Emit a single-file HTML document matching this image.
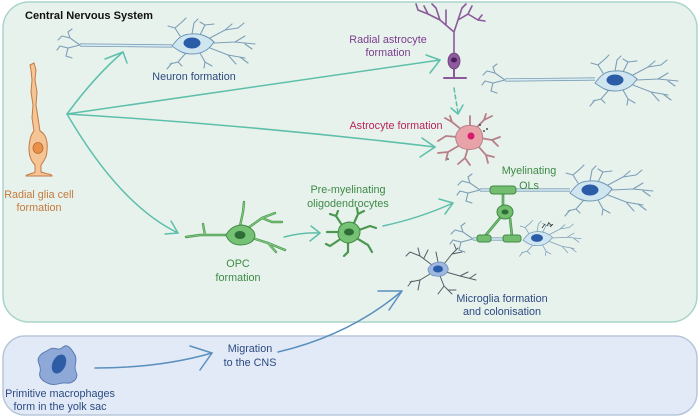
<!DOCTYPE html>
<html><head><meta charset="utf-8"><style>
html,body{margin:0;padding:0;background:#fff;}
svg{display:block;}
text{font-family:"Liberation Sans",Arial,sans-serif;font-size:10.8px;}
</style></head><body>
<svg width="700" height="417" viewBox="0 0 700 417" xmlns="http://www.w3.org/2000/svg">
<defs>
<g id="soma">
  <g fill="none" stroke="#7d9fb6" stroke-width="1.1" stroke-linecap="round">
    <path d="M8,-8 L13,-18 L8,-21 M13,-18 L22,-19"/>
    <path d="M18,-5 L33,-13 L46,-15 M33,-13 L40,-19 M46,-15 L52,-20"/>
    <path d="M22,0 L43,-1 L63,1 M43,-1 L53,-7 M53,1 L60,6"/>
    <path d="M18,5 L36,12 L53,15 M36,12 L44,21 M48,14 L56,20"/>
    <path d="M8,10 L13,19 L20,23 M13,19 L12,25"/>
    <path d="M-7,11 L-14,19 L-22,21 M-14,19 L-10,23 M-20,20 L-25,26"/>
    <path d="M-12,-7 L-17,-15 L-10,-21 M-17,-15 L-24,-17 M-10,-21 L-6,-25"/>
    <path d="M0,-9 L2,-20 L6,-24"/>
  </g>
  <path d="M-20,3 C-14,-5 -10,-9 0,-9 C10,-10 18,-5 22,-1 C18,5 12,11 0,11 C-10,11 -14,7 -20,3Z" fill="#cfe6f1" stroke="#6e97b3" stroke-width="1"/>
  <ellipse cx="0" cy="0" rx="8.5" ry="5.5" fill="#2b5ca8"/>
</g>
<g id="term" fill="none" stroke="#7d9fb6" stroke-width="1.1" stroke-linecap="round">
  <path d="M0,0 L-10,-7 L-18,-9 M-10,-7 L-12,-13 M-18,-9 L-22,-5 M-12,-13 L-8,-16"/>
  <path d="M0,0 L-12,3 L-20,1 M-12,3 L-14,11 L-8,13 M-20,1 L-23,5"/>
</g>
</defs>

<!-- boxes -->
<rect x="3" y="2" width="694" height="320" rx="26" ry="26" fill="#e8f2ed" stroke="#a8d4cb" stroke-width="1.5"/>
<rect x="3" y="336" width="694" height="79" rx="22" ry="22" fill="#e2eaf7" stroke="#b9c7da" stroke-width="1.5"/>

<!-- teal arrows -->
<g fill="none" stroke="#5dbfaa" stroke-width="1.5" stroke-linecap="round" stroke-linejoin="round">
  <path d="M67,114 Q95,76 123,52"/>
  <path d="M105,59 L123,52 L127,63"/>
  <path d="M67,114 Q250,88 440,60"/>
  <path d="M426,55 L440,60 L430,73"/>
  <path d="M67,114 Q250,125 435,147"/>
  <path d="M422,138 L435,147 L420,157"/>
  <path d="M67,114 Q120,205 178,233"/>
  <path d="M165,234 L178,233 L171,221"/>
  <path d="M284,237 Q303,232 320,233"/>
  <path d="M311,226 L320,233 L310,241"/>
  <path d="M383,226 Q420,218 453,203"/>
  <path d="M439,199 L453,203 L445,214"/>
  <path d="M454,88 L458,113" stroke-dasharray="4,3"/>
  <path d="M451,108 L458,114 L463,105"/>
</g>
<!-- blue arrows -->
<g fill="none" stroke="#5b8fbd" stroke-width="1.5" stroke-linecap="round" stroke-linejoin="round">
  <path d="M95,368 Q160,368 212,353"/>
  <path d="M190,346 L212,353 L200,370"/>
  <path d="M278,352 Q350,335 402,291"/>
  <path d="M378,291 L402,291 L389,310"/>
</g>

<!-- neuron top-left -->
<path d="M80,45 L172,46" stroke="#7d9fb6" stroke-width="3.2" fill="none"/>
<path d="M80,45 L172,46" stroke="#d9edf5" stroke-width="1.6" fill="none"/>
<use href="#term" x="80" y="45"/>
<use href="#soma" x="192" y="43"/>

<!-- right neuron -->
<path d="M505,80 L595,79" stroke="#7d9fb6" stroke-width="3.2" fill="none"/>
<path d="M505,80 L595,79" stroke="#d9edf5" stroke-width="1.6" fill="none"/>
<use href="#term" x="505" y="80"/>
<use href="#soma" x="615" y="80"/>

<!-- myelinated neuron top -->
<path d="M480,190 L570,190" stroke="#7d9fb6" stroke-width="3.2" fill="none"/>
<path d="M480,190 L570,190" stroke="#d9edf5" stroke-width="1.6" fill="none"/>
<use href="#term" x="480" y="190"/>
<use href="#soma" x="590" y="190"/>
<!-- lower myelinated neuron -->
<path d="M473,239 L520,239" stroke="#7d9fb6" stroke-width="3.2" fill="none"/>
<path d="M473,239 L520,239" stroke="#d9edf5" stroke-width="1.6" fill="none"/>
<use href="#term" x="473" y="239"/>
<g transform="translate(537,238) scale(0.7)"><use href="#soma"/></g>
<g stroke="#333" stroke-width="0.8" fill="none"><path d="M542,228 l3,-4 M547,226 l2,-4 M550,227 l3,-3 M549,223 l3,3"/></g>
<!-- OL -->
<g fill="#72bd6e" stroke="#3f8a45" stroke-width="1">
  <path d="M503,194 L503,207 M500,218 L485,236 M510,218 L512,236" fill="none" stroke="#3f8a45" stroke-width="2.6"/>
  <path d="M503,194 L503,207 M500,218 L485,236 M510,218 L512,236" fill="none" stroke="#72bd6e" stroke-width="1.4"/>
  <rect x="490" y="186" width="26" height="8" rx="3"/>
  <rect x="477" y="235" width="14" height="7" rx="2.5"/>
  <rect x="503" y="235" width="18" height="7" rx="2.5"/>
  <ellipse cx="505" cy="212" rx="8" ry="7"/>
  <ellipse cx="505" cy="212" rx="3.5" ry="2.5" fill="#2d6e37" stroke="none"/>
</g>

<!-- radial glia -->
<path d="M30,65 L34,63 L36,70 L35,80 L37,92 L36,105 L38,118 L40,131 C46,134 48,142 47,150 C47,158 43,162 41,165 L41,172 C46,174 52,174 52,176 L26,176 C26,174 33,174 35,172 L35,165 C31,161 29,155 29,149 C29,141 31,134 34,131 L32,118 L33,105 L31,92 L32,80 L31,70 Z" fill="#f6c596" stroke="#c27a45" stroke-width="1"/>
<ellipse cx="38" cy="148" rx="5" ry="5.5" fill="#e8914a" stroke="#b96a30" stroke-width="0.8"/>

<!-- radial astrocyte -->
<g fill="none" stroke="#8a5a9a" stroke-width="1.6" stroke-linecap="round">
  <path d="M454,52 L454,32 L440,20 L436,8 M440,20 L428,14 L424,6 M428,14 L418,10 L416,4 M454,32 L458,20 L462,8 M458,20 L468,14 L472,6 M468,14 L478,20 L485,21 M462,8 L466,4 M436,8 L432,4 M446,25 L446,10 M478,20 L482,15"/>
  <path d="M454,69 L454,77 M444,78 L466,78" stroke-width="2"/>
</g>
<ellipse cx="454" cy="61" rx="6" ry="8" fill="#8d5b9c" stroke="#6d3d7e" stroke-width="0.8"/>
<ellipse cx="454" cy="60" rx="3" ry="2.5" fill="#4a1f5e"/>

<!-- astrocyte -->
<g fill="none" stroke="#b77f88" stroke-width="1.8" stroke-linecap="round">
  <path d="M462,130 L452,122 L445,118 M452,122 L450,116"/>
  <path d="M476,128 L484,120 L492,116 M484,120 L486,114"/>
  <path d="M480,138 L492,140 L500,137 M492,140 L498,146"/>
  <path d="M478,146 L486,155 L488,163 M486,155 L494,157"/>
  <path d="M468,148 L465,158 L458,164 M465,158 L470,165"/>
  <path d="M460,145 L448,152 L438,153 M448,152 L446,160"/>
  <path d="M458,137 L446,136 L438,141"/>
  <path d="M470,127 L470,116"/>
</g>
<path d="M458,131 C462,125 470,124 478,127 C484,132 484,142 479,147 C472,151 462,150 458,145 C455,140 455,135 458,131Z" fill="#e8a3a8" stroke="#b77f88" stroke-width="1"/>
<circle cx="471" cy="136" r="3.5" fill="#d41c6a"/>
<g fill="#222"><circle cx="484" cy="131" r="0.9"/><circle cx="487" cy="129" r="0.9"/><circle cx="480" cy="125" r="0.9"/><circle cx="448" cy="159" r="0.8"/></g>

<!-- OPC -->
<g fill="none" stroke="#4a9850" stroke-width="2.4" stroke-linecap="round">
  <path d="M228,235 L200,235 L186,237 M205,235 L203,224"/>
  <path d="M248,228 L262,218 L275,213 M262,218 L272,222 L282,222"/>
  <path d="M252,238 L268,243 L285,250 M268,243 L276,252"/>
  <path d="M240,226 L243,212 L244,202"/>
</g>
<g fill="none" stroke="#7fc77b" stroke-width="1.1" stroke-linecap="round">
  <path d="M228,235 L200,235 L186,237 M205,235 L203,224"/>
  <path d="M248,228 L262,218 L275,213 M262,218 L272,222 L282,222"/>
  <path d="M252,238 L268,243 L285,250 M268,243 L276,252"/>
  <path d="M240,226 L243,212 L244,202"/>
</g>
<path d="M226,235 C230,228 236,225 242,225 C250,226 255,231 255,236 C254,242 248,245 240,245 C233,245 228,241 226,235Z" fill="#76c274" stroke="#3f8a45" stroke-width="1"/>
<ellipse cx="240" cy="235" rx="5.5" ry="4" fill="#2d6e37"/>

<!-- pre-myelinating -->
<g fill="none" stroke="#4a9850" stroke-width="2.2" stroke-linecap="round">
  <path d="M342,225 L336,216 L330,214 M336,216 L338,211"/>
  <path d="M354,223 L358,214 L364,211 M358,214 L357,208"/>
  <path d="M359,230 L370,226 L376,228"/>
  <path d="M358,239 L368,245 L372,252"/>
  <path d="M348,243 L348,252 L344,256"/>
  <path d="M339,240 L330,246 L326,244"/>
  <path d="M338,232 L327,232"/>
</g>
<path d="M339,228 C342,223 346,222 350,222 C356,223 360,227 360,232 C360,238 355,242 349,243 C343,243 338,239 338,234 Z" fill="#76c274" stroke="#3f8a45" stroke-width="1"/>
<ellipse cx="349" cy="232" rx="5" ry="3.5" fill="#2d6e37"/>

<!-- microglia -->
<g fill="none" stroke="#555d66" stroke-width="1" stroke-linecap="round">
  <path d="M432,265 L420,256 L410,252 M420,256 L418,248 M410,252 L406,256 M424,258 L428,250"/>
  <path d="M444,264 L452,254 L458,248 M452,254 L462,252 M456,249 L454,244"/>
  <path d="M446,272 L460,276 L476,280 M460,276 L468,272 M470,278 L476,274"/>
  <path d="M440,276 L444,286 L452,294 M444,286 L438,294 M448,290 L456,290"/>
  <path d="M430,274 L420,280 L410,282 M420,280 L418,290 M412,281 L408,286"/>
  <path d="M438,262 L436,252"/>
</g>
<path d="M428,269 C431,263 436,262 441,262 C446,263 449,267 448,271 C446,275 441,277 436,276 C431,276 428,273 428,269Z" fill="#9db7de" stroke="#6f8cbd" stroke-width="0.8"/>
<ellipse cx="438" cy="269" rx="5" ry="3.5" fill="#2b5ca8"/>

<!-- macrophage -->
<path d="M50,349 C55,346 58,352 63,347 C68,343 72,350 75,355 C78,361 73,366 76,372 C79,378 73,384 66,383 C60,382 57,386 50,384 C44,382 38,378 40,372 C42,366 36,362 39,357 C42,352 46,352 50,349Z" fill="#8ea9d8" stroke="#5d7cb0" stroke-width="1"/>
<ellipse cx="59" cy="364" rx="6.5" ry="10" transform="rotate(25 59 364)" fill="#2e5ca5"/>

<!-- labels -->
<text x="25" y="19" font-weight="bold" font-size="11.8" fill="#111" textLength="128" lengthAdjust="spacingAndGlyphs">Central Nervous System</text>
<g text-anchor="middle">
<text x="194" y="80" fill="#2c4a80">Neuron formation</text>
<text x="39" y="198" fill="#c47a3c">Radial glia cell</text>
<text x="39" y="211" fill="#c47a3c">formation</text>
<text x="388" y="43" fill="#7a3d8c">Radial astrocyte</text>
<text x="388" y="56" fill="#7a3d8c">formation</text>
<text x="396" y="129" fill="#b8245c">Astrocyte formation</text>
<text x="529" y="174" fill="#3e8a45">Myelinating</text>
<text x="529" y="189" fill="#3e8a45">OLs</text>
<text x="348" y="193" fill="#3e8a45">Pre-myelinating</text>
<text x="348" y="207" fill="#3e8a45">oligodendrocytes</text>
<text x="238" y="267" fill="#3e8a45">OPC</text>
<text x="238" y="281" fill="#3e8a45">formation</text>
<text x="502" y="302" fill="#2c4a80">Microglia formation</text>
<text x="502" y="315" fill="#2c4a80">and colonisation</text>
<text x="250" y="352" fill="#2c4a80">Migration</text>
<text x="250" y="366" fill="#2c4a80">to the CNS</text>
<text x="60" y="397" fill="#2c4a80">Primitive macrophages</text>
<text x="60" y="410" fill="#2c4a80">form in the yolk sac</text>
</g>
</svg>
</body></html>
